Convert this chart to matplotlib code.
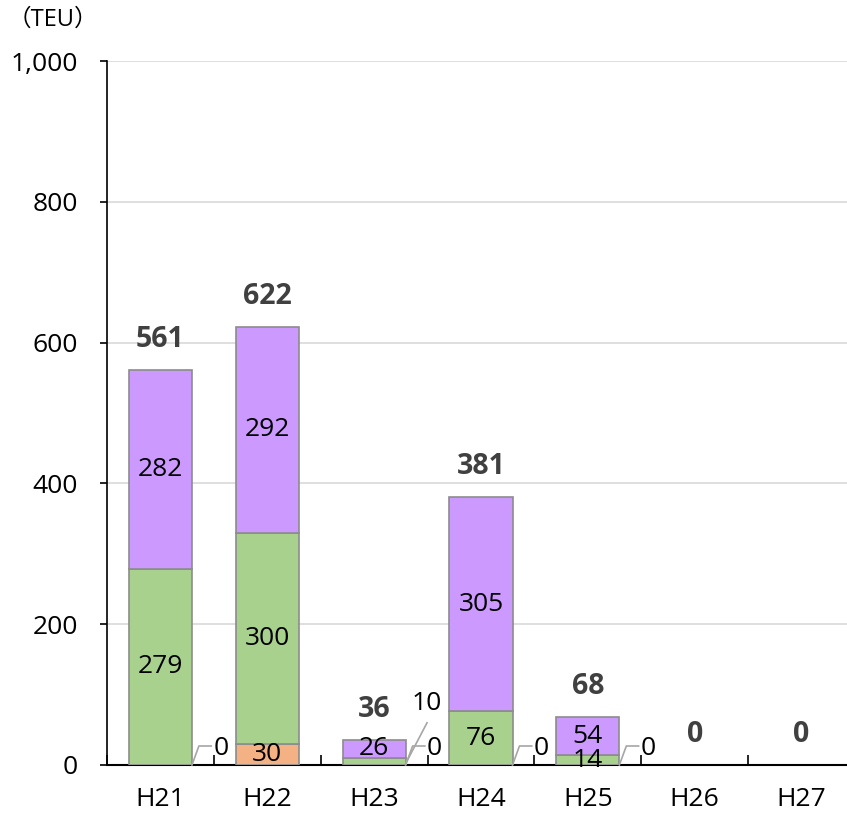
import numpy as np
import matplotlib.pyplot as plt
from matplotlib.ticker import FuncFormatter, FixedLocator

plt.rcParams['font.family'] = ['Open Sans', 'Noto Sans CJK JP', 'DejaVu Sans']

years = ['H21', 'H22', 'H23', 'H24', 'H25', 'H26', 'H27']
orange = [0, 30, 0, 0, 0, 0, 0]
green = [279, 300, 10, 76, 14, 0, 0]
purple = [282, 292, 26, 305, 54, 0, 0]

orange = np.array(orange)
green = np.array(green)
purple = np.array(purple)
totals = orange + green + purple
x = np.arange(len(years))
w = 0.59

fig = plt.figure(figsize=(8.47, 8.19), dpi=100)
ax = fig.add_axes([107/847, 54/819, 748/847, 704/819])

edge = '#8c8c8c'


def lw(v):
    return [1.2 if h > 0 else 0 for h in v]


ax.bar(x, orange, w, color='#F4B183', edgecolor=edge, linewidth=lw(orange), zorder=3)
ax.bar(x, green, w, bottom=orange, color='#A9D18E', edgecolor=edge, linewidth=lw(green), zorder=3)
ax.bar(x, purple, w, bottom=orange + green, color='#CC99FF', edgecolor=edge, linewidth=lw(purple), zorder=3)

fs = 19
# segment labels
for i in range(len(years)):
    if orange[i] > 0:
        ax.text(x[i], orange[i] / 2, str(orange[i]), ha='center', va='center', fontsize=fs, zorder=5)
    if green[i] >= 14:
        ax.text(x[i], orange[i] + green[i] / 2, str(green[i]), ha='center', va='center', fontsize=fs, zorder=5)
    if purple[i] > 0:
        ax.text(x[i], orange[i] + green[i] + purple[i] / 2, str(purple[i]), ha='center', va='center',
                fontsize=fs, zorder=5)
    ax.text(x[i], totals[i] + 43, str(totals[i]), ha='center', va='center', fontsize=20.5,
            fontweight='bold', color='#404040', zorder=5)

# "0" callouts for the empty bottom series
lc = '#a6a6a6'
for i in [0, 2, 3, 4]:
    xr = x[i] + w / 2
    ax.plot([xr, xr + 0.065, xr + 0.18], [0, 27, 27], color=lc, lw=1.2, zorder=4, clip_on=False)
    ax.text(xr + 0.27, 24, '0', ha='center', va='center', fontsize=fs, zorder=5)

# "10" callout for the thin green slice of H23
xr = x[2] + w / 2
ax.plot([xr, xr + 0.2], [2, 60], color=lc, lw=1.2, zorder=4)
ax.text(xr + 0.2, 88, str(green[2]), ha='center', va='center', fontsize=fs, zorder=5)

ax.set_xlim(-0.5, len(years) - 0.5)
ax.set_ylim(0, 1000)
ax.set_yticks(np.arange(0, 1001, 200))
ax.yaxis.set_major_formatter(FuncFormatter(lambda v, p: f'{int(v):,}'))
ax.grid(axis='y', color='#d9d9d9', lw=1.2, zorder=0)
ax.set_axisbelow(True)

ax.set_xticks(x)
ax.set_xticklabels(years)
ax.xaxis.set_minor_locator(FixedLocator(np.arange(-0.5, len(years), 1.0)))
ax.tick_params(axis='x', which='major', length=0, pad=16, labelsize=fs)
ax.tick_params(axis='x', which='minor', direction='in', length=7, width=1.2, color='black')
ax.tick_params(axis='y', length=5, width=1.2, pad=16, labelsize=fs)

for s in ['top', 'right']:
    ax.spines[s].set_visible(False)
ax.spines['left'].set_linewidth(1.2)
ax.spines['bottom'].set_linewidth(1.5)

fig.text(8/847, 1 - 20/819, '（TEU）', ha='left', va='center', fontsize=17)

fig.savefig('out.png', dpi=100)
